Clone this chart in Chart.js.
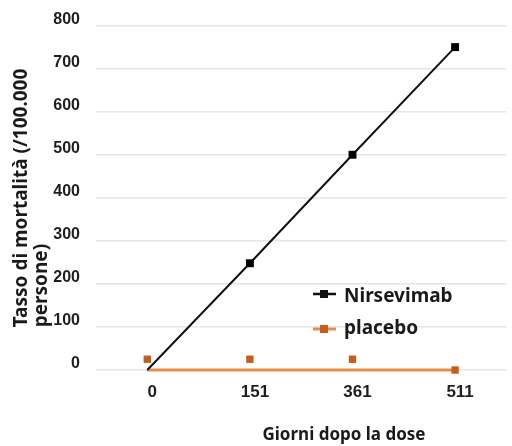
<!DOCTYPE html>
<html><head><meta charset="utf-8">
<script src="https://cdn.jsdelivr.net/npm/chart.js@4/dist/chart.umd.min.js"></script>
<style>html,body{margin:0;padding:0;background:#fff}#wrap{width:512px;height:446px;position:relative}</style>
</head><body><div id="wrap"><canvas id="c" width="512" height="446"></canvas></div>
<script>
// ---- data ----
const categories = ['0', '151', '361', '511'];
const nirsevimab = [0, 248, 500, 750];
const placeboMarkers = [25, 25, 25, 0];
const placeboLine = [0, 0, 0, 0];
const yMin = 0, yMax = 800, yStep = 100;
const seriesNames = ['Nirsevimab', 'placebo'];
const xTitle = 'Giorni dopo la dose';
const yTitle = ['Tasso di mortalità (/100.000', 'persone)'];

const BLACK = '#111111';
const ORANGE_LINE = '#e98f4e';
const ORANGE_MARK = '#c35e1c';
const TEXT = '#1a1a1a';

const annot = {
  id: 'annot',
  afterDraw(chart) {
    const ctx = chart.ctx;
    ctx.save();
    ctx.fillStyle = TEXT;
    // x title
    ctx.font = 'bold 17px "Noto Sans"';
    ctx.textAlign = 'center';
    ctx.textBaseline = 'alphabetic';
    ctx.fillText(xTitle, 344, 440);
    // y title
    ctx.font = 'bold 19px "Noto Sans"';
    const yc = 198;
    ctx.save();
    ctx.translate(27, yc);
    ctx.rotate(-Math.PI / 2);
    ctx.textAlign = 'center';
    ctx.fillText(yTitle[0], 0, 0);
    const w1 = ctx.measureText(yTitle[0]).width;
    ctx.restore();
    ctx.save();
    ctx.translate(47, yc);
    ctx.rotate(-Math.PI / 2);
    ctx.textAlign = 'left';
    ctx.fillText(yTitle[1], -w1 / 2, 0);
    ctx.restore();
    // legend
    const items = [
      {name: seriesNames[0], line: BLACK, mark: BLACK, lw: 2.5, y: 294, base: 302},
      {name: seriesNames[1], line: ORANGE_LINE, mark: ORANGE_MARK, lw: 3, y: 329, base: 334}
    ];
    ctx.font = 'bold 19px "Noto Sans"';
    ctx.textAlign = 'left';
    for (const it of items) {
      ctx.strokeStyle = it.line;
      ctx.lineWidth = it.lw;
      ctx.beginPath();
      ctx.moveTo(313, it.y);
      ctx.lineTo(336, it.y);
      ctx.stroke();
      ctx.fillStyle = it.mark;
      ctx.fillRect(320, it.y - 4, 8, 8);
      ctx.fillStyle = TEXT;
      ctx.fillText(it.name, 344, it.base);
    }
    ctx.restore();
  }
};

new Chart(document.getElementById('c'), {
  type: 'line',
  data: {
    labels: categories,
    datasets: [
      {
        label: seriesNames[0],
        data: nirsevimab,
        borderColor: BLACK,
        borderWidth: 2,
        pointStyle: 'rect',
        pointRadius: nirsevimab.map((v, i) => i === 0 ? 0 : 5.6),
        pointBackgroundColor: '#000',
        pointBorderColor: '#000',
        pointBorderWidth: 0,
        tension: 0,
        clip: false
      },
      {
        label: seriesNames[1],
        data: placeboMarkers,
        showLine: false,
        pointStyle: 'rect',
        pointRadius: 5.2,
        pointBackgroundColor: ORANGE_MARK,
        pointBorderColor: ORANGE_MARK,
        pointBorderWidth: 0,
        clip: false
      },
      {
        label: seriesNames[1] + ' line',
        data: placeboLine,
        borderColor: ORANGE_LINE,
        borderWidth: 3,
        pointRadius: 0,
        tension: 0,
        clip: false
      }
    ]
  },
  options: {
    responsive: false,
    animation: false,
    devicePixelRatio: 1,
    layout: {padding: {top: 19, right: 0, bottom: 0, left: 0}},
    plugins: {legend: {display: false}, tooltip: {enabled: false}},
    scales: {
      x: {
        type: 'category',
        offset: true,
        grid: {display: false, drawTicks: false},
        border: {display: false},
        ticks: {
          padding: 12,
          labelOffset: 5,
          color: '#1e1e1e',
          font: {family: '"Liberation Sans", Arial, sans-serif', weight: 'bold', size: 17}
        },
        afterFit(scale) { scale.height = 76; }
      },
      y: {
        min: yMin, max: yMax,
        grid: {color: '#e6e6e6', lineWidth: 1.5, drawTicks: false},
        border: {display: false},
        ticks: {
          stepSize: yStep,
          padding: 16,
          labelOffset: -6,
          color: '#1e1e1e',
          font: {family: '"Liberation Sans", Arial, sans-serif', weight: 'bold', size: 16}
        },
        afterFit(scale) { scale.width = 96; }
      }
    }
  },
  plugins: [annot]
});
</script>
</body></html>
